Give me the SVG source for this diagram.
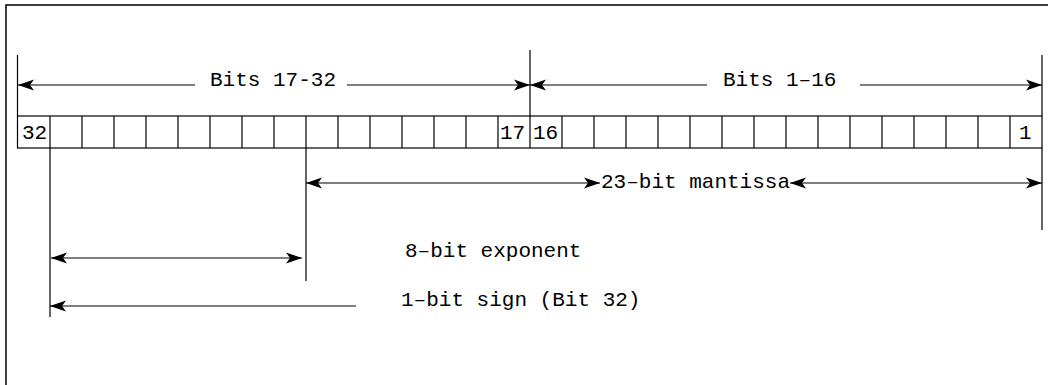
<svg xmlns="http://www.w3.org/2000/svg" width="1048" height="385" viewBox="0 0 1048 385">
<style>
.ln{stroke:#000;stroke-width:1.2;fill:none}
.t{font-family:"Liberation Mono","Courier New",monospace;font-size:21px;fill:#000}
.cell{fill:#fff;stroke:#000;stroke-width:1.2}
</style>
<defs>
<marker id="ah" markerUnits="userSpaceOnUse" markerWidth="20" markerHeight="14" viewBox="-18 -7 20 14" refX="0" refY="0" orient="auto-start-reverse">
<path d="M0,0 L-16,-5.5 L-12,0 L-16,5.5 Z" fill="#000"/>
</marker>
</defs>
<rect x="6" y="5" width="1100" height="420" fill="none" stroke="#000" stroke-width="1.5"/>
<g id="register">
<rect class="cell" x="17.5" y="116" width="1024.5" height="32"/>
<path class="ln" d="M50,116V148M82,116V148M114,116V148M146,116V148M178,116V148M210,116V148M242,116V148M274,116V148M306,116V148M338,116V148M370,116V148M402,116V148M434,116V148M466,116V148M498,116V148M530,116V148M562,116V148M594,116V148M626,116V148M658,116V148M690,116V148M722,116V148M754,116V148M786,116V148M818,116V148M850,116V148M882,116V148M914,116V148M946,116V148M978,116V148M1010,116V148"/>
<text class="t" x="22" y="139">32</text>
<text class="t" x="500" y="139">17</text>
<text class="t" x="533" y="139">16</text>
<text class="t" x="1019" y="139">1</text>
</g>
<g id="connectors">
<path class="ln" d="M17.5,55V116M530,50V116M1042,55V116"/>
<line class="ln" x1="18" y1="85" x2="195" y2="85" marker-start="url(#ah)"/>
<line class="ln" x1="347" y1="85" x2="530" y2="85" marker-end="url(#ah)"/>
<line class="ln" x1="530" y1="85" x2="707" y2="85" marker-start="url(#ah)"/>
<line class="ln" x1="860" y1="85" x2="1042" y2="85" marker-end="url(#ah)"/>
<path class="ln" d="M306,148V281M1042,148V230M50,148V317"/>
<line class="ln" x1="306" y1="183" x2="600" y2="183" marker-start="url(#ah)" marker-end="url(#ah)"/>
<line class="ln" x1="790" y1="183" x2="1042" y2="183" marker-start="url(#ah)" marker-end="url(#ah)"/>
<line class="ln" x1="51" y1="258" x2="302" y2="258" marker-start="url(#ah)" marker-end="url(#ah)"/>
<line class="ln" x1="50" y1="306" x2="356" y2="306" marker-start="url(#ah)"/>
</g>
<g id="labels">
<text class="t" x="210" y="86">Bits 17-32</text>
<text class="t" x="723" y="86">Bits 1–16</text>
<text class="t" x="601" y="188">23–bit mantissa</text>
<text class="t" x="405" y="257">8–bit exponent</text>
<text class="t" x="401" y="306">1–bit sign (Bit 32)</text>
</g>
</svg>
